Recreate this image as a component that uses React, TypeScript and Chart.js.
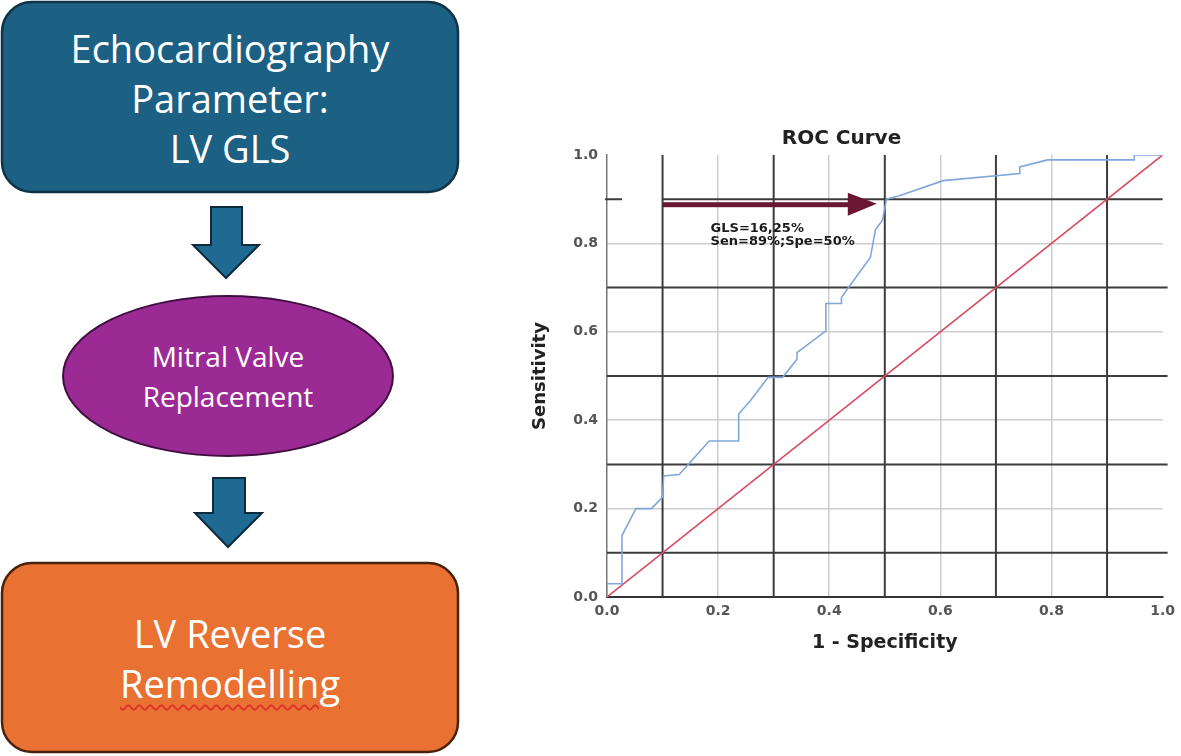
import React, { useEffect, useRef } from "react";
import { Chart, registerables } from "chart.js";

Chart.register(...registerables);

// ROC curve (1 - specificity, sensitivity)
const rocX = [0, 0, 0.027, 0.027, 0.052, 0.08, 0.1, 0.102, 0.13, 0.184, 0.237, 0.237, 0.258, 0.29, 0.316, 0.342, 0.342, 0.394, 0.394, 0.422, 0.422, 0.474, 0.483, 0.496, 0.503, 0.525, 0.605, 0.743, 0.743, 0.793, 0.949, 0.949, 1];
const rocY = [0, 0.03, 0.03, 0.139, 0.2, 0.2, 0.226, 0.274, 0.277, 0.353, 0.353, 0.414, 0.444, 0.497, 0.497, 0.538, 0.553, 0.602, 0.664, 0.664, 0.678, 0.768, 0.83, 0.853, 0.9, 0.907, 0.942, 0.958, 0.973, 0.989, 0.989, 1, 1];
// reference diagonal
const diagX = [0, 1];
const diagY = [0, 1];
// dark overlay grid lines
const darkLines = [0.1, 0.3, 0.5, 0.7, 0.9];
// cut-off annotation
const cutX = 0.5;
const cutY = 0.9;
const arrowStartX = 0.1;
const gapFromX = 0.027; // gap in the 0.9 line (annotation box)
const annotLines = ["GLS=16,25%", "Sen=89%;Spe=50%"];

const chartTitle = "ROC Curve";
const xTitle = "1 - Specificity";
const yTitle = "Sensitivity";

const flowTop = ["Echocardiography", "Parameter:", "LV GLS"];
const flowMid = ["Mitral Valve", "Replacement"];
const flowBottom = ["LV Reverse", "Remodelling"];

const toPts = (xs: number[], ys: number[]) => xs.map((x, i) => ({ x, y: ys[i] }));

const darkGridPlugin = {
  id: "darkGrid",
  beforeDatasetsDraw(chart: any) {
    const { ctx, scales } = chart;
    const xs = scales.x, ys = scales.y;
    ctx.save();
    ctx.strokeStyle = "#3c3c3c";
    ctx.lineWidth = 2;
    const x0 = xs.getPixelForValue(0);
    const x1 = xs.getPixelForValue(1);
    const y0 = ys.getPixelForValue(0);
    const y1 = ys.getPixelForValue(1);
    darkLines.forEach((v) => {
      const px = xs.getPixelForValue(v);
      ctx.beginPath();
      ctx.moveTo(px, y0);
      ctx.lineTo(px, y1);
      ctx.stroke();
      const py = ys.getPixelForValue(v);
      ctx.beginPath();
      if (v === cutY) {
        ctx.moveTo(x0 - 2, py);
        ctx.lineTo(xs.getPixelForValue(gapFromX), py);
        ctx.moveTo(xs.getPixelForValue(arrowStartX), py);
        ctx.lineTo(x1, py);
      } else {
        ctx.moveTo(x0, py);
        ctx.lineTo(x1 + 5, py);
      }
      ctx.stroke();
    });
    ctx.restore();
  },
};

const annotPlugin = {
  id: "annot",
  afterDatasetsDraw(chart: any) {
    const { ctx, scales } = chart;
    const xs = scales.x, ys = scales.y;
    const xStart = xs.getPixelForValue(arrowStartX);
    const tip = xs.getPixelForValue(cutX) - 8;
    const yc = ys.getPixelForValue(cutY) + 5.5;
    ctx.save();
    ctx.fillStyle = "#6b1734";
    ctx.fillRect(xStart, yc - 2.5, tip - 28 - xStart, 5);
    ctx.beginPath();
    ctx.moveTo(tip - 29, yc - 12);
    ctx.lineTo(tip, yc - 1);
    ctx.lineTo(tip - 29, yc + 11);
    ctx.closePath();
    ctx.fill();
    ctx.fillStyle = "#1a1a1a";
    ctx.font = "bold 13px 'DejaVu Sans', sans-serif";
    ctx.textBaseline = "middle";
    ctx.textAlign = "left";
    const tx = xStart + 48;
    ctx.fillText(annotLines[0], tx, yc + 24);
    ctx.fillText(annotLines[1], tx, yc + 37);
    ctx.restore();
  },
};

function RocChart() {
  const ref = useRef<HTMLCanvasElement | null>(null);
  useEffect(() => {
    if (!ref.current) return;
    const gridColor = (c: any) =>
      c.tick && (c.tick.value === 0 || c.tick.value === 1) ? "rgba(0,0,0,0)" : "#cdcdcd";
    const tickFont = { family: "'DejaVu Sans', sans-serif", size: 14, weight: "bold" as const };
    const chart = new Chart(ref.current, {
      type: "scatter",
      data: {
        datasets: [
          {
            label: "ROC",
            data: toPts(rocX, rocY),
            showLine: true,
            borderColor: "#80a7dc",
            borderWidth: 1.6,
            pointRadius: 0,
            fill: false,
          },
          {
            label: "Reference",
            data: toPts(diagX, diagY),
            showLine: true,
            borderColor: "#d64a63",
            borderWidth: 1.6,
            pointRadius: 0,
            fill: false,
          },
        ],
      },
      options: {
        animation: false,
        responsive: false,
        devicePixelRatio: 1,
        layout: { padding: { left: 0, right: 18, top: 1, bottom: 0 } },
        plugins: {
          legend: { display: false },
          tooltip: { enabled: false },
          title: {
            display: true,
            text: chartTitle,
            color: "#222",
            font: { family: "'DejaVu Sans', sans-serif", size: 20, weight: "bold" },
            padding: { top: 16, bottom: 4 },
          },
        },
        scales: {
          x: {
            type: "linear",
            min: 0,
            max: 1,
            ticks: {
              stepSize: 0.2,
              padding: 6,
              color: "#555",
              font: tickFont,
              callback: (v: any) => Number(v).toFixed(1),
            },
            grid: { color: gridColor, lineWidth: 1.5, drawTicks: false },
            border: { display: true, color: "#333", width: 2 },
            title: {
              display: true,
              text: xTitle,
              color: "#222",
              font: { family: "'DejaVu Sans', sans-serif", size: 19, weight: "bold" },
              padding: { top: 4, bottom: 16 },
            },
            afterFit: (s: any) => {
              s.height = 73;
            },
          },
          y: {
            type: "linear",
            min: 0,
            max: 1,
            ticks: {
              stepSize: 0.2,
              padding: 9,
              color: "#555",
              font: tickFont,
              callback: (v: any) => Number(v).toFixed(1),
            },
            grid: { color: gridColor, lineWidth: 1.5, drawTicks: false },
            border: { display: true, color: "#777", width: 1.5 },
            title: {
              display: true,
              text: yTitle,
              color: "#222",
              font: { family: "'DejaVu Sans', sans-serif", size: 18, weight: "bold" },
              padding: { top: 10, bottom: 4 },
            },
            afterFit: (s: any) => {
              s.width = 87;
            },
          },
        },
      },
      plugins: [darkGridPlugin, annotPlugin],
    });
    return () => chart.destroy();
  }, []);
  return (
    <canvas
      ref={ref}
      width={661}
      height={560}
      style={{ position: "absolute", left: 520, top: 110, width: 661, height: 560 }}
    />
  );
}

const textBase: React.CSSProperties = {
  position: "absolute",
  left: 2,
  width: 456,
  textAlign: "center",
  color: "#ffffff",
  fontFamily: "'Open Sans', 'Noto Sans', sans-serif",
  whiteSpace: "nowrap",
};

function Flow() {
  return (
    <>
      <svg width={470} height={756} style={{ position: "absolute", left: 0, top: 0 }}>
        <rect x={2} y={2} width={456} height={190} rx={30} ry={30} fill="#1c6083" stroke="#0f3347" strokeWidth={2.5} />
        <polygon
          points="211,207 242,207 242,245 259,245 226,278 193,245 211,245"
          fill="#1f6a93"
          stroke="#0e2b3c"
          strokeWidth={2}
        />
        <ellipse cx={228} cy={376} rx={165} ry={80} fill="#9c2a94" stroke="#3e1040" strokeWidth={2} />
        <polygon
          points="213,478 245,478 245,513 262,513 228,547 195,513 213,513"
          fill="#1f6a93"
          stroke="#0e2b3c"
          strokeWidth={2}
        />
        <rect x={2} y={563} width={456} height={189} rx={30} ry={30} fill="#e97132" stroke="#4a220c" strokeWidth={2.5} />
      </svg>
      <div style={{ ...textBase, top: 23, fontSize: 38, lineHeight: "50px" }}>
        {flowTop.map((t) => (
          <div key={t}>{t}</div>
        ))}
      </div>
      <div style={{ ...textBase, left: 63, width: 330, top: 336, fontSize: 28, lineHeight: "40px" }}>
        {flowMid.map((t) => (
          <div key={t}>{t}</div>
        ))}
      </div>
      <div style={{ ...textBase, top: 608, fontSize: 38, lineHeight: "50px" }}>
        <div>{flowBottom[0]}</div>
        <div>
          <span
            style={{
              textDecorationLine: "underline",
              textDecorationStyle: "wavy",
              textDecorationColor: "#e0302a",
              textDecorationThickness: "1.5px",
              textUnderlineOffset: "6px",
            }}
          >
            {flowBottom[1]}
          </span>
        </div>
      </div>
    </>
  );
}

export default function App() {
  return (
    <div
      style={{
        position: "absolute",
        left: 0,
        top: 0,
        width: 1181,
        height: 756,
        background: "#ffffff",
        overflow: "hidden",
      }}
    >
      <Flow />
      <RocChart />
    </div>
  );
}
